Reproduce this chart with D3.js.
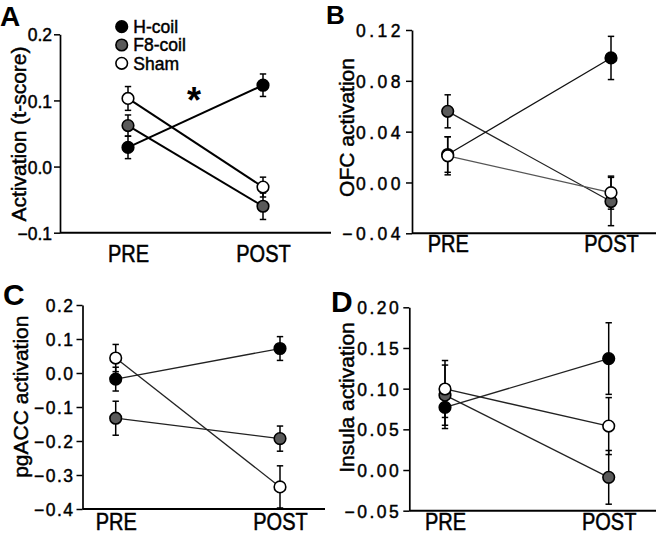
<!DOCTYPE html>
<html>
<head>
<meta charset="utf-8">
<script src="https://cdn.jsdelivr.net/npm/d3@7"></script>
<style>
  body { margin: 0; background: #fff; }
  svg { display: block; font-family: "Liberation Sans", Arial, Helvetica, sans-serif; }
  /* the scanned figure has heavy type, thicken it a little */
  .heavy { stroke: #000; stroke-width: 0.45px; }
</style>
</head>
<body>
<div id="chart"></div>
<script>
// --- Data ---
const categories = ["PRE", "POST"];
const seriesNames = ["H-coil", "F8-coil", "Sham"];

// panel A: activation (t-score)
const aTicks = [-0.1, 0.0, 0.1, 0.2];
const aH = [0.029, 0.123],    aHErr = [0.017, 0.017];
const aF8 = [0.062, -0.060],  aF8Err = [0.016, 0.020];
const aSham = [0.103, -0.031], aShamErr = [0.018, 0.015];

// panel B: OFC
const bTicks = [-0.04, 0.00, 0.04, 0.08, 0.12];
const bH = [0.022, 0.098],    bHErr = [0.014, 0.017];
const bF8 = [0.056, -0.015],  bF8Err = [0.013, 0.019];
const bSham = [0.021, -0.008], bShamErr = [0.015, 0.013];

// panel C: pgACC
const cTicks = [-0.4, -0.3, -0.2, -0.1, 0.0, 0.1, 0.2];
const cH = [-0.018, 0.072],   cHErr = [0.035, 0.035];
const cF8 = [-0.133, -0.193], cF8Err = [0.050, 0.037];
const cSham = [0.044, -0.335], cShamErr = [0.040, 0.062];

// panel D: insula
const dTicks = [-0.05, 0.00, 0.05, 0.10, 0.15, 0.20];
const dH = [0.077, 0.137],    dHErr = [0.026, 0.044];
const dF8 = [0.092, -0.009],  dF8Err = [0.037, 0.033];
const dSham = [0.0996, 0.054], dShamErr = [0.035, 0.035];

// --- Style ---
const fills = { "H-coil": "#000", "F8-coil": "#5a5a5a", "Sham": "#fff" };
const W = 656, H = 535;

const svg = d3.select("#chart").append("svg")
    .attr("width", W).attr("height", H);
svg.append("rect").attr("width", W).attr("height", H).attr("fill", "#fff");

const panels = [
    { letter: "A", lx: 0, ly: 25.5, lsize: 28, title: "Activation (t-score)", tx: 26, ty: 134,
      ticks: aTicks, fmt: ".1f", ax: 60, top: 34.3, bottom: 232.7, right: 331,
      pre: 128, post: 263, catDy: 29, lw: 2, tickSpacing: 0,
      series: { "H-coil": [aH, aHErr], "F8-coil": [aF8, aF8Err], "Sham": [aSham, aShamErr] },
      lineColors: { "H-coil": "#000", "F8-coil": "#000", "Sham": "#000" } },
    { letter: "B", lx: 326, ly: 23.5, lsize: 26, title: "OFC activation", tx: 354, ty: 127.5,
      ticks: bTicks, fmt: ".2f", ax: 412, top: 30, bottom: 233.3, right: 656,
      pre: 447.7, post: 611, catDy: 18.4, lw: 1.3, tickSpacing: 3.5,
      series: { "H-coil": [bH, bHErr], "F8-coil": [bF8, bF8Err], "Sham": [bSham, bShamErr] },
      lineColors: { "H-coil": "#111", "F8-coil": "#222", "Sham": "#555" } },
    { letter: "C", lx: 3, ly: 305, lsize: 30, title: "pgACC activation", tx: 28.3, ty: 396.7,
      ticks: cTicks, fmt: ".1f", ax: 82.5, top: 305, bottom: 509, right: 325,
      pre: 115.7, post: 280, catDy: 21, lw: 1.3, tickSpacing: 1.5,
      series: { "H-coil": [cH, cHErr], "F8-coil": [cF8, cF8Err], "Sham": [cSham, cShamErr] },
      lineColors: { "H-coil": "#222", "F8-coil": "#222", "Sham": "#222" } },
    { letter: "D", lx: 331, ly: 311.7, lsize: 30, title: "Insula activation", tx: 354.3, ty: 397.5,
      ticks: dTicks, fmt: ".2f", ax: 409.3, top: 307.3, bottom: 510.7, right: 656,
      pre: 445, post: 608.7, catDy: 19, lw: 1.3, tickSpacing: 2.5,
      series: { "H-coil": [dH, dHErr], "F8-coil": [dF8, dF8Err], "Sham": [dSham, dShamErr] },
      lineColors: { "H-coil": "#222", "F8-coil": "#222", "Sham": "#222" } }
];

// draw order: gray first, then black, white on top
const drawOrder = ["F8-coil", "H-coil", "Sham"];

panels.forEach(p => {
    const g = svg.append("g");
    const y = d3.scaleLinear()
        .domain(d3.extent(p.ticks))
        .range([p.bottom, p.top]);
    const x = d3.scalePoint().domain(categories).range([p.pre, p.post]);

    // panel letter
    g.append("text")
        .attr("x", p.lx).attr("y", p.ly)
        .attr("font-size", p.lsize).attr("font-weight", "bold")
        .text(p.letter);

    // y axis
    const yAxis = d3.axisLeft(y)
        .tickValues(p.ticks)
        .tickFormat(d3.format(p.fmt))
        .tickSize(6).tickSizeOuter(0).tickPadding(2);
    const yg = g.append("g").attr("transform", `translate(${p.ax},0)`).call(yAxis);
    yg.select(".domain").attr("stroke", "#000").attr("stroke-width", 1.7);
    yg.selectAll(".tick line").attr("stroke", "#000").attr("stroke-width", 1.5);
    yg.selectAll(".tick text")
        .attr("class", "heavy")
        .attr("font-size", 17.5).attr("fill", "#000")
        .attr("font-family", "Liberation Sans, Arial, sans-serif")
        .attr("letter-spacing", p.tickSpacing)
        .attr("dy", "0.38em");

    // x axis line
    g.append("line")
        .attr("x1", p.ax).attr("x2", p.right)
        .attr("y1", p.bottom).attr("y2", p.bottom)
        .attr("stroke", "#000").attr("stroke-width", 1.9);

    // category labels
    const xAxis = d3.axisBottom(x).tickSize(0).tickSizeOuter(0);
    const xg = g.append("g").attr("transform", `translate(0,${p.bottom})`).call(xAxis);
    xg.select(".domain").remove();
    xg.selectAll(".tick text")
        .attr("class", "heavy")
        .attr("y", 0).attr("dy", 0)
        .attr("font-size", 20).attr("fill", "#000")
        .attr("font-family", "Liberation Sans, Arial, sans-serif")
        .attr("transform", `translate(0,${p.catDy}) scale(1,1.15)`);

    // y title
    g.append("text")
        .attr("class", "heavy")
        .attr("transform", `translate(${p.tx},${p.ty}) rotate(-90)`)
        .attr("text-anchor", "middle")
        .attr("font-size", 21)
        .text(p.title);

    // connecting lines
    drawOrder.forEach(name => {
        const vals = p.series[name][0];
        g.append("path")
            .attr("d", d3.line().x((d, i) => x(categories[i])).y(d => y(d))(vals))
            .attr("fill", "none")
            .attr("stroke", p.lineColors[name])
            .attr("stroke-width", p.lw);
    });

    // error bars
    drawOrder.forEach(name => {
        const [vals, errs] = p.series[name];
        vals.forEach((v, i) => {
            const cx = x(categories[i]);
            const y1 = y(v - errs[i]), y2 = y(v + errs[i]);
            const eg = g.append("g").attr("stroke", "#000").attr("stroke-width", 1.5);
            eg.append("line").attr("x1", cx).attr("x2", cx).attr("y1", y1).attr("y2", y2);
            eg.append("line").attr("x1", cx - 3.2).attr("x2", cx + 3.2).attr("y1", y1).attr("y2", y1);
            eg.append("line").attr("x1", cx - 3.2).attr("x2", cx + 3.2).attr("y1", y2).attr("y2", y2);
        });
    });

    // markers
    drawOrder.forEach(name => {
        const vals = p.series[name][0];
        g.selectAll(null)
            .data(vals)
            .enter().append("circle")
            .attr("cx", (d, i) => x(categories[i]))
            .attr("cy", d => y(d))
            .attr("r", 5.8)
            .attr("fill", fills[name])
            .attr("stroke", "#000")
            .attr("stroke-width", 1.6);
    });
});

// legend (panel A)
const legend = svg.append("g");
seriesNames.forEach((name, i) => {
    const ly = 26.7 + i * 18.3;
    legend.append("circle")
        .attr("cx", 121.7).attr("cy", ly).attr("r", 5.8)
        .attr("fill", fills[name]).attr("stroke", "#000").attr("stroke-width", 1.6);
    legend.append("text")
        .attr("class", "heavy")
        .attr("x", 133.3).attr("y", ly + 6.4)
        .attr("font-size", 17.5)
        .text(name);
});

// significance marker
svg.append("text")
    .attr("x", 194).attr("y", 112.5)
    .attr("text-anchor", "middle")
    .attr("font-size", 36).attr("font-weight", "bold")
    .text("*");
</script>
</body>
</html>
